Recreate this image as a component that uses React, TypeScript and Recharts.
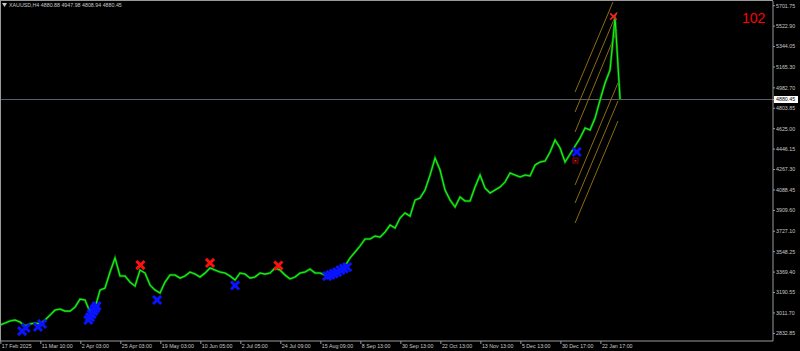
import { ComposedChart, Line, Scatter, XAxis, YAxis, ReferenceLine } from "recharts";

// H4 closes sampled every 12 bars (2 trading days)
const BAR_STEP = 12;
const closes = [
  2906, 2923, 2941, 2950, 2932, 2897, 2915, 2923, 2915, 2950,
  2993, 3037, 3046, 3028, 3028, 3063, 3133, 3125, 3020, 3055,
  3212, 3230, 3370, 3493, 3335, 3335, 3282, 3247, 3387, 3361,
  3256, 3212, 3186, 3282, 3344, 3344, 3317, 3335, 3370, 3352,
  3326, 3361, 3405, 3387, 3370, 3361, 3335, 3300, 3361, 3352,
  3317, 3326, 3361, 3352, 3361, 3405, 3387, 3344, 3309, 3326,
  3361, 3370, 3396, 3361, 3361, 3344, 3352, 3370, 3387, 3422,
  3493, 3545, 3598, 3659, 3659, 3685, 3676, 3720, 3781, 3755,
  3843, 3887, 3860, 4000, 4018, 4088, 4219, 4368, 4263, 4088,
  4000, 3939, 4027, 3992, 3992, 4114, 4219, 4105, 4062, 4088,
  4114, 4158, 4237, 4219, 4202, 4219, 4211, 4307, 4333, 4342,
  4421, 4526, 4456, 4333, 4403, 4473, 4543, 4631, 4613, 4718,
  4876, 5025, 5139, 5598, 4880.45,
];

const xTickBars = [2, 98, 194, 290, 386, 482, 578, 674, 770, 866, 962, 1058, 1154, 1250, 1346, 1442];
const xLabels = [
  "17 Feb 2025", "11 Mar 10:00", "2 Apr 03:00", "25 Apr 03:00", "19 May 03:00",
  "10 Jun 05:00", "2 Jul 05:00", "24 Jul 09:00", "15 Aug 09:00", "8 Sep 13:00",
  "30 Sep 13:00", "22 Oct 13:00", "13 Nov 13:00", "5 Dec 13:00", "30 Dec 17:00",
  "22 Jan 17:00",
];

const yTicks = [
  5701.75, 5522.9, 5344.05, 5165.3, 4982.7, 4880.45, 4803.85, 4625.0, 4446.15,
  4267.3, 4088.45, 3909.6, 3727.1, 3548.25, 3369.4, 3190.55, 3011.7, 2832.85,
];
const lastPrice = 4880.45;

// arrow signals
const sellBars = [337, 504, 668];
const sellPrices = [3431, 3449, 3427];
const peakBars = [1472];
const peakPrices = [5607];
const buyBars = [53, 62, 91, 101, 212, 216, 220, 224, 228, 232, 377, 564, 785, 793, 801, 809, 817, 825, 833, 1384];
const buyPrices = [2853, 2880, 2889, 2915, 2950, 2975, 3002, 3028, 3050, 3072, 3125, 3252, 3335, 3344, 3356, 3370, 3387, 3400, 3413, 4421];
const stopBars = [1381];
const stopPrices = [4346];

// regression channel lines: start / end (bar, price)
const channelFrom = [[1380, 4946], [1380, 4771], [1380, 4596], [1380, 4132], [1380, 3974], [1380, 3799]];
const channelTo = [[1471, 5734], [1481, 5647], [1481, 5489], [1483, 5025], [1483, 4867], [1483, 4692]];

const priceData = closes.map((price, i) => ({ bar: i * BAR_STEP, price }));
const toPoints = (bars: number[], prices: number[]) => bars.map((bar, i) => ({ bar, price: prices[i] }));

const FONT = "'Liberation Sans', Arial, sans-serif";
const AXIS = "#9a9a9a";
const LABEL = "#c8c8c8";

const YTick = (props: any) => {
  const { x, y, payload } = props;
  const txt = Number(payload.value).toFixed(2);
  if (payload.value === lastPrice) {
    return (
      <g>
        <rect x={x - 2} y={y - 3.5} width={24} height={7} fill="#ffffff" />
        <text x={x} y={y + 1.9} fill="#000" fontSize={5.3} fontFamily={FONT}>{txt}</text>
      </g>
    );
  }
  return <text x={x} y={y + 1.9} fill={LABEL} fontSize={5.3} fontFamily={FONT}>{txt}</text>;
};

const XTick = (props: any) => {
  const { x, y, index } = props;
  return <text x={x + 1} y={y + 3.6} fill={LABEL} fontSize={5.3} fontFamily={FONT}>{xLabels[index]}</text>;
};

const cross = (color: string, r: number, w: number) => (props: any) => {
  const { cx, cy } = props;
  return (
    <g stroke={color} strokeWidth={w} strokeLinecap="square">
      <line x1={cx - r} y1={cy - r} x2={cx + r} y2={cy + r} />
      <line x1={cx - r} y1={cy + r} x2={cx + r} y2={cy - r} />
    </g>
  );
};

const stopShape = (props: any) => {
  const { cx, cy } = props;
  return (
    <g>
      <rect x={cx - 2.5} y={cy - 2.5} width={5} height={5} fill="none" stroke="#a00000" strokeWidth={1} />
      <rect x={cx - 1} y={cy - 0.5} width={2} height={1.5} fill="#d03030" />
    </g>
  );
};

export default function App() {
  return (
    <div style={{ position: "relative", width: 800, height: 351, background: "#000" }}>
      <style>{"body{margin:0;background:#000}"}</style>
      <ComposedChart width={800} height={351} data={priceData} margin={{ top: 1, right: 0, bottom: 0, left: 0 }}>
        <XAxis
          type="number"
          dataKey="bar"
          domain={[0, 1855]}
          allowDataOverflow
          ticks={xTickBars}
          interval={0}
          tick={<XTick />}
          tickSize={3}
          tickMargin={0}
          height={10}
          axisLine={{ stroke: AXIS }}
          tickLine={{ stroke: AXIS }}
        />
        <YAxis
          type="number"
          dataKey="price"
          orientation="right"
          width={27}
          domain={[2766, 5743]}
          allowDataOverflow
          ticks={yTicks}
          interval={0}
          tick={<YTick />}
          tickSize={2}
          tickMargin={1}
          axisLine={{ stroke: AXIS }}
          tickLine={{ stroke: AXIS }}
        />
        <ReferenceLine y={lastPrice} stroke="#56606a" strokeWidth={1} />
        {channelFrom.map((from, i) => (
          <ReferenceLine
            key={i}
            segment={[{ x: from[0], y: from[1] }, { x: channelTo[i][0], y: channelTo[i][1] }]}
            stroke="#8c6c12"
            strokeWidth={1}
            ifOverflow="visible"
          />
        ))}
        <Line type="linear" dataKey="price" stroke="#007a00" strokeWidth={2.4} dot={false} isAnimationActive={false} />
        <Line type="linear" dataKey="price" stroke="#1ef01e" strokeWidth={1.1} dot={false} isAnimationActive={false} />
        <Scatter data={toPoints(buyBars, buyPrices)} dataKey="price" shape={cross("#0a14ff", 3, 3)} isAnimationActive={false} />
        <Scatter data={toPoints(sellBars, sellPrices)} dataKey="price" shape={cross("#ff1010", 3, 3)} isAnimationActive={false} />
        <Scatter data={toPoints(peakBars, peakPrices)} dataKey="price" shape={cross("#ff2020", 2.6, 1.6)} isAnimationActive={false} />
        <Scatter data={toPoints(stopBars, stopPrices)} dataKey="price" shape={stopShape} isAnimationActive={false} />
      </ComposedChart>
      <svg width={800} height={351} style={{ position: "absolute", left: 0, top: 0, pointerEvents: "none" }}>
        <line x1={0.5} y1={0} x2={0.5} y2={341} stroke={AXIS} />
        <line x1={0} y1={0.5} x2={773} y2={0.5} stroke={AXIS} />
        <polygon points="2,3 7,3 4.5,7" fill={LABEL} />
        <text x={9} y={7} fill={LABEL} fontSize={5.3} fontFamily={FONT}>XAUUSD,H4  4880.88 4947.98 4808.94 4880.45</text>
        <text x={742} y={23} fill="#ff0000" fontSize={14} fontFamily={FONT}>102</text>
      </svg>
    </div>
  );
}
